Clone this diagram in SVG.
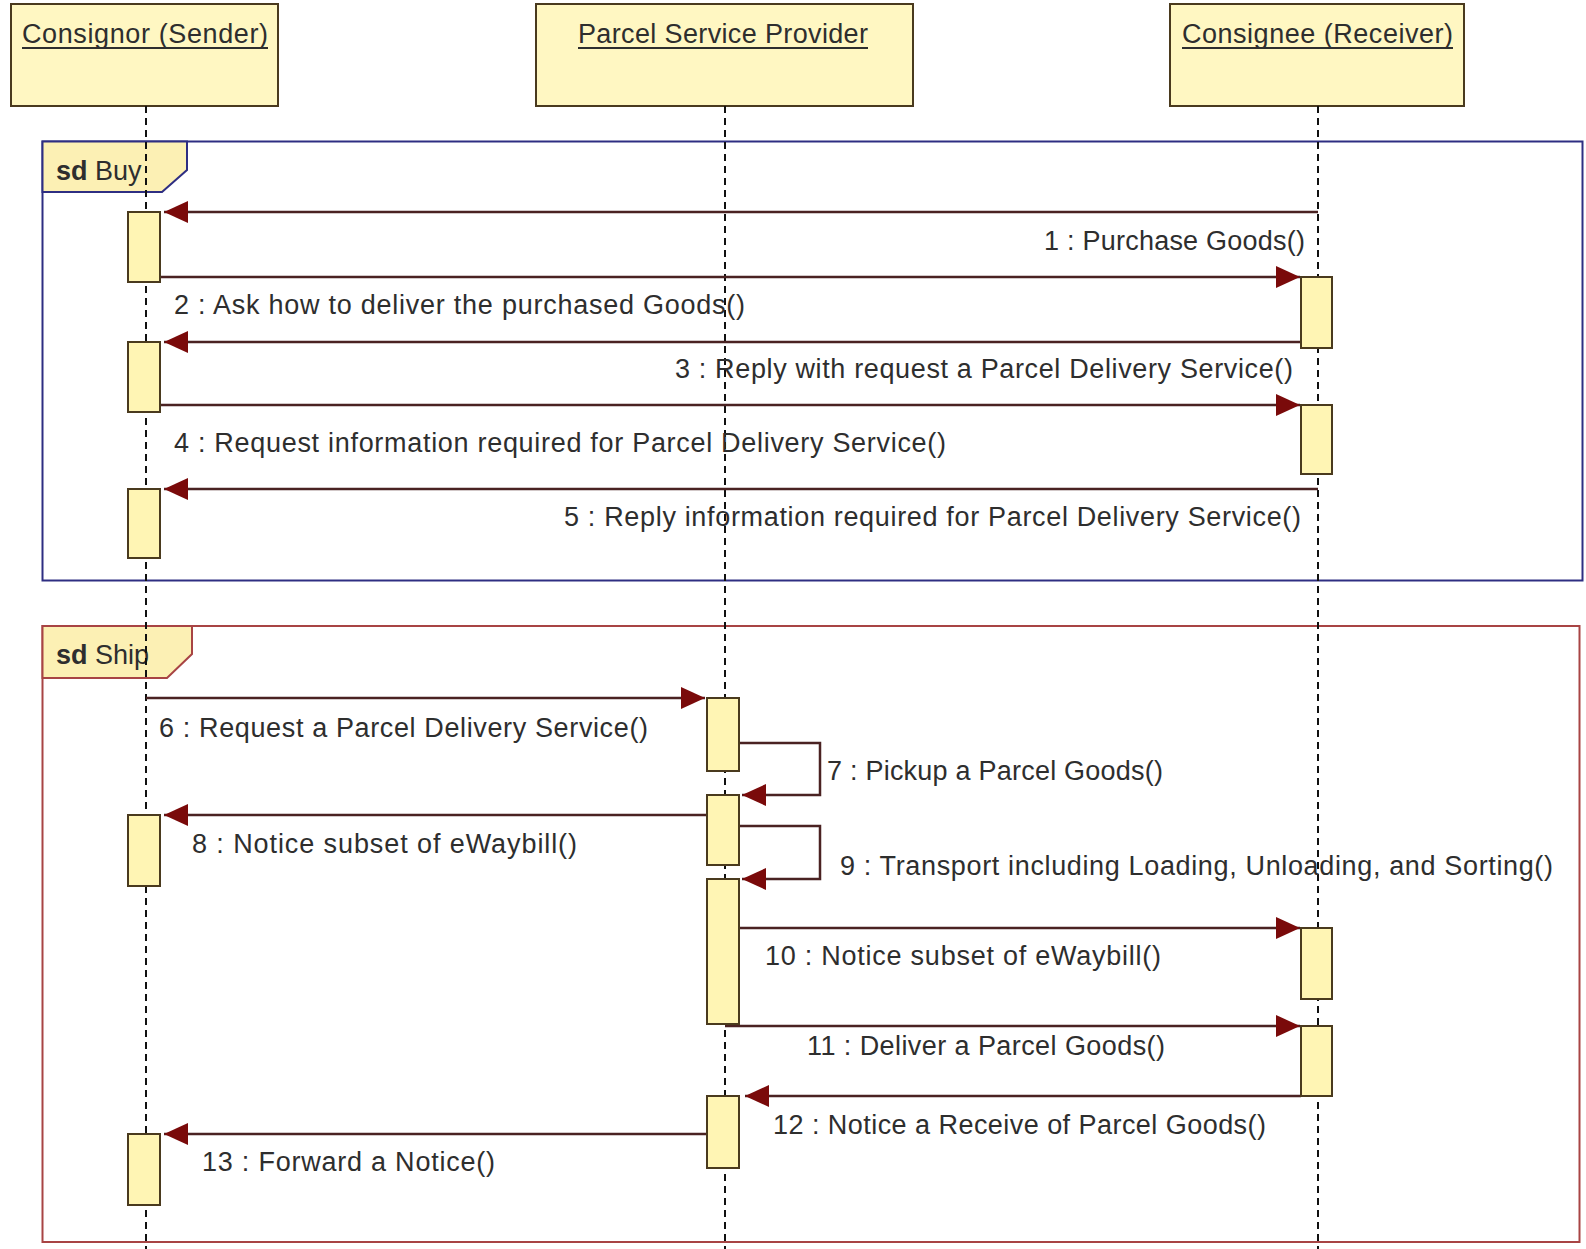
<svg xmlns="http://www.w3.org/2000/svg" width="1586" height="1249" viewBox="0 0 1586 1249">
<style>
  text { font-family: "Liberation Sans", Arial, sans-serif; font-size: 27px; fill: #2e2e2e; }
  .head { fill: #fff7c2; stroke: #4a3a1e; stroke-width: 2; }
  .act { fill: #fff5b4; stroke: #4a3a1e; stroke-width: 2; }
  .life { stroke: #111; stroke-width: 2; stroke-dasharray: 7 5; fill: none; }
  .msg { stroke: #4a2222; stroke-width: 2.5; fill: none; marker-end: url(#ah); }
  .ul { stroke: #2e2e2e; stroke-width: 2; }
  .tab { fill: #fcf0b4; stroke-width: 2; }
</style>
<defs>
  <marker id="ah" markerUnits="userSpaceOnUse" markerWidth="26" markerHeight="24" refX="24" refY="11" orient="auto">
    <path d="M0,0 L24,11 L0,22 z" fill="#7a0a0a"/>
  </marker>
</defs>
<rect width="1586" height="1249" fill="#ffffff"/>

<g id="frame-buy">
  <rect x="42.5" y="141.5" width="1540" height="439" fill="none" stroke="#2e2e82" stroke-width="2"/>
  <path class="tab" d="M42.5,141.5 L187,141.5 L187,170 L162,192 L42.5,192 Z" stroke="#2e2e82"/>
  <text x="56" y="180"><tspan font-weight="bold">sd</tspan> Buy</text>
</g>
<g id="frame-ship">
  <rect x="42.5" y="626" width="1537" height="616" fill="none" stroke="#a84444" stroke-width="2"/>
  <path class="tab" d="M42.5,626 L192,626 L192,654 L167,678 L42.5,678 Z" stroke="#a84444"/>
  <text x="56" y="664"><tspan font-weight="bold">sd</tspan> Ship</text>
</g>

<g id="consignor">
  <rect class="head" x="11" y="4" width="267" height="102"/>
  <text x="22" y="43" textLength="246">Consignor (Sender)</text>
  <line class="ul" x1="22" y1="48" x2="268" y2="48"/>
  <line class="life" x1="146" y1="106" x2="146" y2="1249"/>
</g>
<g id="provider">
  <rect class="head" x="536" y="4" width="377" height="102"/>
  <text x="578" y="43" textLength="290">Parcel Service Provider</text>
  <line class="ul" x1="578" y1="48" x2="868" y2="48"/>
  <line class="life" x1="725" y1="106" x2="725" y2="1249"/>
</g>
<g id="consignee">
  <rect class="head" x="1170" y="4" width="294" height="102"/>
  <text x="1182" y="43" textLength="271">Consignee (Receiver)</text>
  <line class="ul" x1="1182" y1="48" x2="1453" y2="48"/>
  <line class="life" x1="1318" y1="106" x2="1318" y2="1249"/>
</g>

<g id="connectors">
  <line class="msg" x1="1318" y1="212" x2="164" y2="212"/>
  <line class="msg" x1="160" y1="277" x2="1300" y2="277"/>
  <line class="msg" x1="1301" y1="342" x2="164" y2="342"/>
  <line class="msg" x1="160" y1="405" x2="1300" y2="405"/>
  <line class="msg" x1="1318" y1="489" x2="164" y2="489"/>
  <line class="msg" x1="146" y1="698" x2="705" y2="698"/>
  <polyline class="msg" points="739,743 820,743 820,795 742,795"/>
  <line class="msg" x1="706" y1="815" x2="164" y2="815"/>
  <polyline class="msg" points="739,826 820,826 820,879 742,879"/>
  <line class="msg" x1="739" y1="928" x2="1300" y2="928"/>
  <line class="msg" x1="725" y1="1026" x2="1300" y2="1026"/>
  <line class="msg" x1="1301" y1="1096" x2="745" y2="1096"/>
  <line class="msg" x1="706" y1="1134" x2="164" y2="1134"/>
</g>

<g id="activations">
  <rect class="act" x="128" y="212" width="32" height="70"/>
  <rect class="act" x="128" y="342" width="32" height="70"/>
  <rect class="act" x="128" y="489" width="32" height="69"/>
  <rect class="act" x="128" y="815" width="32" height="71"/>
  <rect class="act" x="128" y="1134" width="32" height="71"/>
  <rect class="act" x="707" y="698" width="32" height="73"/>
  <rect class="act" x="707" y="795" width="32" height="70"/>
  <rect class="act" x="707" y="879" width="32" height="145"/>
  <rect class="act" x="707" y="1096" width="32" height="72"/>
  <rect class="act" x="1301" y="277" width="31" height="71"/>
  <rect class="act" x="1301" y="405" width="31" height="69"/>
  <rect class="act" x="1301" y="928" width="31" height="71"/>
  <rect class="act" x="1301" y="1026" width="31" height="70"/>
</g>

<g id="labels">
  <text x="1044" y="250" textLength="261">1 : Purchase Goods()</text>
  <text x="174" y="314" textLength="571">2 : Ask how to deliver the purchased Goods()</text>
  <text x="675" y="378" textLength="618">3 : Reply with request a Parcel Delivery Service()</text>
  <text x="174" y="452" textLength="772">4 : Request information required for Parcel Delivery Service()</text>
  <text x="564" y="526" textLength="737">5 : Reply information required for Parcel Delivery Service()</text>
  <text x="159" y="737" textLength="489">6 : Request a Parcel Delivery Service()</text>
  <text x="827" y="780" textLength="336">7 : Pickup a Parcel Goods()</text>
  <text x="192" y="853" textLength="385">8 : Notice subset of eWaybill()</text>
  <text x="840" y="875" textLength="713">9 : Transport including Loading, Unloading, and Sorting()</text>
  <text x="765" y="965" textLength="396">10 : Notice subset of eWaybill()</text>
  <text x="807" y="1055" textLength="358">11 : Deliver a Parcel Goods()</text>
  <text x="773" y="1134" textLength="493">12 : Notice a Receive of Parcel Goods()</text>
  <text x="202" y="1171" textLength="293">13 : Forward a Notice()</text>
</g>
</svg>
